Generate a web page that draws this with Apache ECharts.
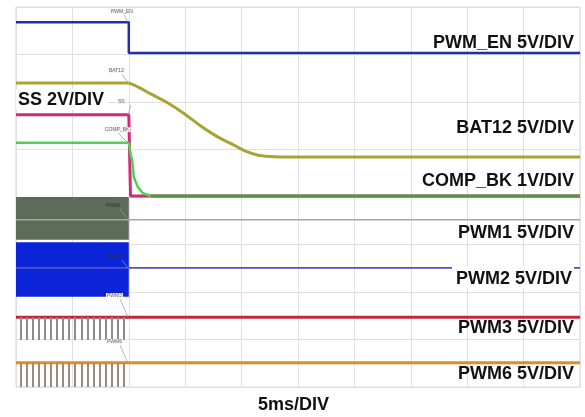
<!DOCTYPE html>
<html>
<head>
<meta charset="utf-8">
<script src="https://cdn.jsdelivr.net/npm/echarts@6/dist/echarts.min.js"></script>
<style>
html,body{margin:0;padding:0;background:#fff;}
#c{width:585px;height:417px;}
</style>
</head>
<body>
<div id="c"></div>
<script>
// Time axis: ms relative to trigger (5 ms/div). Vertical values: screen divisions (0 = bottom, 8 = top).
var xTicks = [-10, -5, 0, 5, 10, 15, 20, 25, 30, 35, 40];

var pwmEnTime = [-10, 0, 0, 40];
var pwmEnVals = [7.68, 7.68, 7.03, 7.03];

var bat12PreTime = [-10, 0];
var bat12PreVals = [6.40, 6.40];
var bat12Time = [0, 0.62, 1.96, 3.47, 4.89, 6.41, 7.92, 9.34, 10.41, 11.48, 12.9, 14.5, 40];
var bat12Vals = [6.40, 6.34, 6.17, 5.98, 5.76, 5.49, 5.26, 5.09, 4.96, 4.88, 4.845, 4.84, 4.84];

var ssTime = [-10, 0, 0.15, 40];
var ssVals = [5.73, 5.73, 4.02, 4.02];

var compBkTime = [-10, 0, 0.18, 0.33, 0.44, 0.8, 1.25, 1.96];
var compBkVals = [5.14, 5.14, 4.88, 4.72, 4.42, 4.21, 4.08, 4.02];
var compBkSettledTime = [1.96, 40];
var compBkSettledVals = [4.02, 4.02];

var pwm1Time = [-10, 40];
var pwm1Vals = [3.52, 3.52];
var pwm1BandTime = [-10, 0];
var pwm1BandRange = [3.10, 4.00];

var pwm2Time = [-10, 40];
var pwm2Vals = [2.51, 2.51];
var pwm2BandTime = [-10, 0];
var pwm2BandRange = [1.90, 3.05];

var pwm3Time = [-10, 40];
var pwm3Vals = [1.47, 1.47];
var pwm6Time = [-10, 40];
var pwm6Vals = [0.51, 0.51];

var pulseTimes = [-9.6, -9.06, -8.52, -7.98, -7.45, -6.91, -6.37, -5.83, -5.29, -4.75, -4.21, -3.67, -3.13, -2.6, -2.06, -1.52, -0.98, -0.44];
var pwm3PulseRange = [0.99, 1.47];
var pwm6PulseRange = [0.0, 0.51];

var traceLabels = ['PWM_EN 5V/DIV', 'BAT12 5V/DIV', 'COMP_BK 1V/DIV', 'PWM1 5V/DIV', 'PWM2 5V/DIV', 'PWM3 5V/DIV', 'PWM6 5V/DIV'];
var ssLabel = 'SS 2V/DIV';
var timeLabel = '5ms/DIV';
var tagNames = ['PWM_EN', 'BAT12', 'SS', 'COMP_BK', 'PWM1', 'PWM2', 'PWM3', 'PWM6'];

function pairs(t, v) { return t.map(function (x, i) { return [x, v[i]]; }); }
function lineSeries(name, t, v, color, width, z) {
  return { name: name, type: 'line', data: pairs(t, v), symbol: 'none', silent: true, z: z || 2,
           lineStyle: { color: color, width: width }, animation: false };
}
function pulses(times, range) {
  return times.map(function (t) { return [{ coord: [t, range[1]] }, { coord: [t, range[0]] }]; });
}

var chart = echarts.init(document.getElementById('c'));

var FONT = 'bold 18px "Liberation Sans", Arial, sans-serif';
var capTops = [37, 122, 175, 227, 273, 322, 368];
var graphics = traceLabels.map(function (s, i) {
  var bg = (i === 4);
  return { type: 'text', right: 11, top: capTops[i] - 3 - (bg ? 4 : 0), z: 100,
    style: { text: s, font: FONT, fill: '#111',
             backgroundColor: bg ? '#fff' : null, padding: bg ? [4, 2, 0, 4] : 0 } };
});
graphics.push({ type: 'text', left: 16, top: 89, z: 100,
  style: { text: ssLabel, font: FONT, fill: '#111',
           backgroundColor: '#fff', padding: [2, 3, 1, 2] } });
graphics.push({ type: 'text', left: 258, top: 396, z: 100,
  style: { text: timeLabel, font: FONT, fill: '#111' } });

// tiny channel tags near trigger
var tagPos = [[110, 9, 22], [108, 68, 83], [117, 99, 115], [104, 127, 143], [106, 203, 220], [108, 254, 268], [106, 293, 317], [106, 339, 363]];
tagPos.forEach(function (p, i) {
  graphics.push({ type: 'text', left: p[0], top: p[1], z: 90,
    style: { text: tagNames[i], font: '5px sans-serif', fill: i >= 4 && i <= 5 ? '#333' : '#666',
             backgroundColor: i >= 4 && i <= 5 ? null : '#f4f4f4', padding: [0, 1] } });
  graphics.push({ type: 'line', z: 90, shape: { x1: p[0] + 14, y1: p[1] + 6, x2: 128, y2: p[2] },
    style: { stroke: '#999', lineWidth: 0.7 } });
});

var bat12Curve = lineSeries('BAT12 5V/DIV', bat12Time, bat12Vals, '#aaa332', 3, 8);
bat12Curve.smooth = 0.3;

var option = {
  animation: false,
  backgroundColor: '#fff',
  grid: { left: 16, right: 5, top: 7, bottom: 30, show: true, borderColor: '#d8d8d8', borderWidth: 1 },
  xAxis: { type: 'value', min: xTicks[0], max: xTicks[xTicks.length - 1], interval: 5,
    axisLine: { show: false }, axisTick: { show: false }, axisLabel: { show: false },
    splitLine: { show: true, lineStyle: { color: '#e0e0e0', width: 1 } } },
  yAxis: { type: 'value', min: 0, max: 8, interval: 1,
    axisLine: { show: false }, axisTick: { show: false }, axisLabel: { show: false },
    splitLine: { show: true, lineStyle: { color: '#e0e0e0', width: 1 } } },
  graphic: graphics,
  series: [
    (function () {
      var s = lineSeries('PWM1 5V/DIV', pwm1Time, pwm1Vals, '#a5a8a3', 1.5, 3);
      s.markArea = { silent: true, itemStyle: { color: '#5d6b59' },
        data: [[{ coord: [pwm1BandTime[0], pwm1BandRange[1]] }, { coord: [pwm1BandTime[1], pwm1BandRange[0]] }]] };
      return s;
    })(),
    (function () {
      var s = lineSeries('PWM2 5V/DIV', pwm2Time, pwm2Vals, '#5050c8', 1.8, 3);
      s.markArea = { silent: true, itemStyle: { color: '#0c24d8' },
        data: [[{ coord: [pwm2BandTime[0], pwm2BandRange[1]] }, { coord: [pwm2BandTime[1], pwm2BandRange[0]] }]] };
      return s;
    })(),
    (function () {
      var s = lineSeries('PWM3 5V/DIV', pwm3Time, pwm3Vals, '#c0283a', 3, 4);
      s.markLine = { silent: true, symbol: ['none', 'none'], label: { show: false },
        lineStyle: { color: '#8c8c8c', width: 2, type: 'solid' }, data: pulses(pulseTimes, pwm3PulseRange) };
      return s;
    })(),
    (function () {
      var s = lineSeries('PWM6 5V/DIV', pwm6Time, pwm6Vals, '#e08a2a', 3, 4);
      s.markLine = { silent: true, symbol: ['none', 'none'], label: { show: false },
        lineStyle: { color: '#9a8c7c', width: 2, type: 'solid' }, data: pulses(pulseTimes, pwm6PulseRange) };
      return s;
    })(),
    lineSeries('PWM_EN 5V/DIV', pwmEnTime, pwmEnVals, '#2230a8', 2.5, 5),
    lineSeries('SS 2V/DIV', ssTime, ssVals, '#d02a78', 3, 5),
    lineSeries('COMP_BK settled', compBkSettledTime, compBkSettledVals, '#4e9a3c', 3, 6),
    lineSeries('COMP_BK 1V/DIV', compBkTime, compBkVals, '#4fd14f', 2.5, 7),
    lineSeries('BAT12 pre', bat12PreTime, bat12PreVals, '#aaa332', 3, 8),
    bat12Curve
  ]
};
chart.setOption(option);
</script>
</body>
</html>
